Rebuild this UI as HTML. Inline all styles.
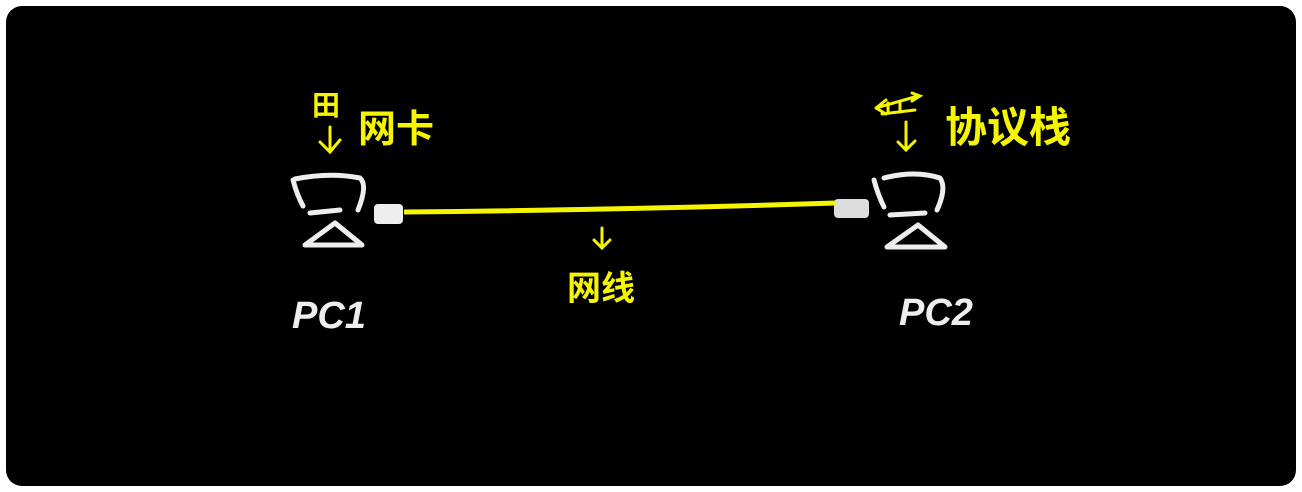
<!DOCTYPE html>
<html><head><meta charset="utf-8"><style>
html,body{margin:0;padding:0;background:#fff;width:1302px;height:492px;overflow:hidden}
svg{display:block}
text{font-family:"Liberation Sans","Noto Sans CJK SC",sans-serif}
</style></head><body>
<svg width="1302" height="492" viewBox="0 0 1302 492">
<rect x="6" y="6" width="1290" height="480" rx="16" fill="#000"/>
<g fill="none" stroke="#eee" stroke-width="5" stroke-linecap="round" stroke-linejoin="round">
 <g>
  <path d="M293,180 Q297,195 303,206"/>
  <path d="M295,179 Q330,172 360,178 Q368,185 358,210"/>
  <path d="M310,213 L340,210"/>
  <path d="M305,245 L362,245 L335,223 Z"/>
 </g>
 <g>
  <path d="M874,180 Q878,195 884,207"/>
  <path d="M884,178 Q915,170 940,178 Q947,188 937,210"/>
  <path d="M890,215 L925,213"/>
  <path d="M887,247 L945,247 L918,225 Z"/>
 </g>
</g>
<rect x="374" y="204" width="29" height="20" rx="4" fill="#eee"/>
<rect x="834" y="199" width="35" height="19" rx="4" fill="#ddd"/>
<path d="M404,212 Q620,210 835,203" stroke="#f5f500" stroke-width="5" fill="none"/>
<g stroke="#f5f500" stroke-width="3" fill="none" stroke-linecap="round">
 <path d="M330,127 L330,152 M320,142 L330,152 L340,140"/>
 <path d="M602,228 L602,248 M594,240 L602,248 L610,240"/>
 <path d="M906,122 L906,150 M898,142 L906,150 L915,141"/>
 <path d="M876,108 L918,96 M876,108 L886,100 M876,108 L886,114 M912,93 L920,96 L912,101 M888,103 L888,113 M900,101 L900,112 M882,114 L915,110"/>
</g>
<g fill="#f5f500" font-weight="bold">
 <text x="312" y="115" font-size="28">田</text>
 <text x="358" y="142" font-size="38">网卡</text>
 <text x="945" y="142" font-size="42">协议栈</text>
 <text x="567" y="300" font-size="34">网线</text>
</g>
<g fill="#eee" font-style="italic" font-weight="bold">
 <text x="292" y="328" font-size="38">PC1</text>
 <text x="899" y="325" font-size="38">PC2</text>
</g>
</svg>
</body></html>
